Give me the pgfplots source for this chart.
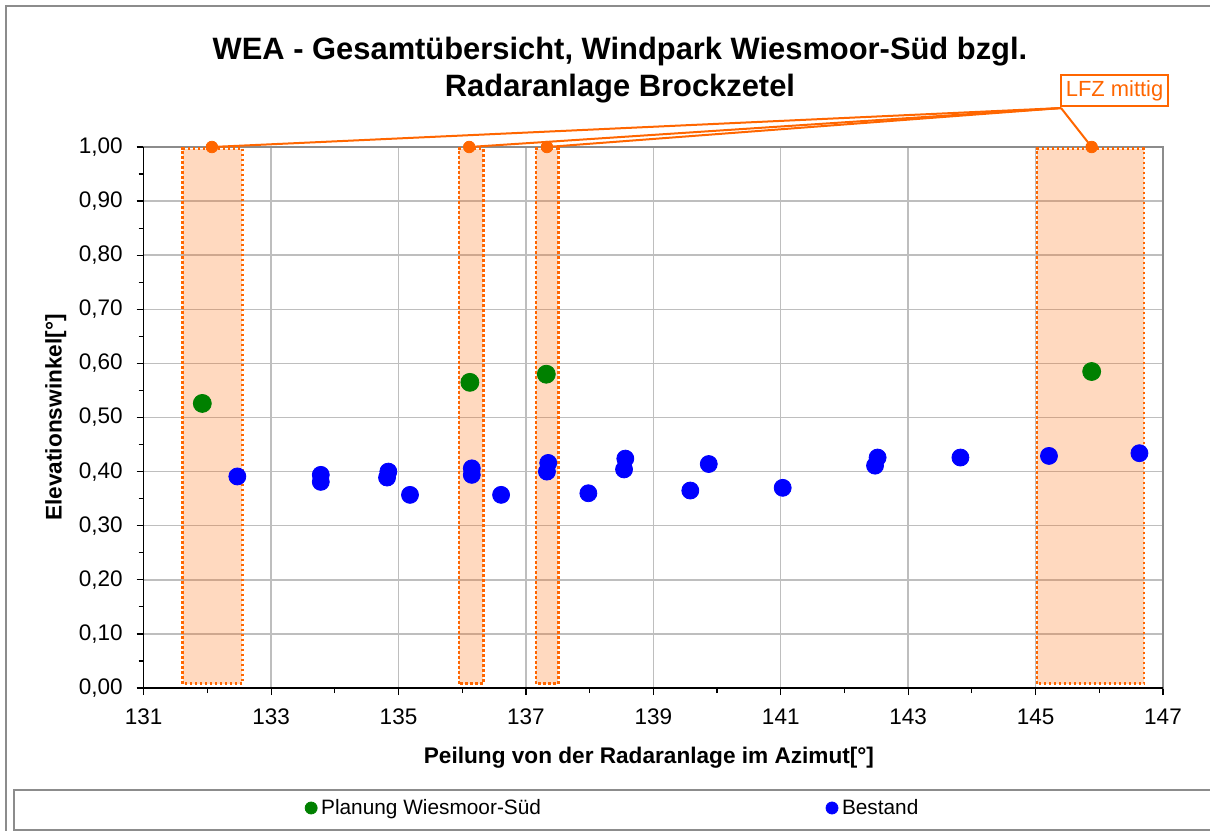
\documentclass[border=0pt]{standalone}
\usepackage{fontspec}
\setmainfont{Liberation Sans}
\usepackage{pgfplots}
\pgfplotsset{compat=1.18}

\definecolor{lfz}{HTML}{FF6600}
\definecolor{planung}{HTML}{008000}
\definecolor{bestand}{HTML}{0000FF}
\definecolor{gridgray}{HTML}{BEBEBE}
\definecolor{framegray}{HTML}{8C8C8C}

\begin{document}
\begin{tikzpicture}
\useasboundingbox (-71.85bp,-71.5bp) rectangle (533.15bp,344bp);
% outer chart frame and legend box
\draw[framegray, line width=0.8bp] (-68.85bp,341bp) rectangle (545bp,-85bp);
\draw[framegray, line width=0.8bp] (-64.85bp,-51bp) rectangle (545bp,-71bp);
% title
\node[align=center, font=\fontsize{15.5}{18.5}\selectfont\bfseries]
  at (238.15bp,308.75bp) {WEA - Gesamtübersicht, Windpark Wiesmoor-Süd bzgl.\\Radaranlage Brockzetel};

\begin{axis}[
  at={(0,0)}, anchor=south west,
  width=509.65bp, height=270.5bp, scale only axis,
  xmin=131, xmax=147, ymin=0, ymax=1,
  xtick={131,133,...,147}, minor xtick={132,134,...,146},
  ytick={0,0.1,0.2,0.3,0.4,0.5,0.6,0.7,0.8,0.9,1},
  minor ytick={0.05,0.15,0.25,0.35,0.45,0.55,0.65,0.75,0.85,0.95},
  tick align=outside, major tick length=3.5bp, minor tick length=2.5bp,
  tick style={black, line width=0.6bp},
  xtick pos=bottom, ytick pos=left,
  grid=major, major grid style={gridgray, line width=0.7bp},
  axis line style={framegray, line width=0.7bp},
  ticklabel style={font=\fontsize{11.3}{13}\selectfont},
  yticklabel style={xshift=-3.5bp, /pgf/number format/.cd, fixed, fixed zerofill, precision=2, use comma, assume math mode=true},
  xticklabel style={yshift=-3.5bp, /pgf/number format/.cd, fixed, precision=0, assume math mode=true},
  xlabel={Peilung von der Radaranlage im Azimut[°]},
  ylabel={Elevationswinkel[°]},
  label style={font=\fontsize{11.35}{13}\selectfont\bfseries},
  xlabel style={at={(axis description cs:0.4957,0)}, anchor=center, yshift=-35bp},
  ylabel style={at={(axis description cs:0,0.5)}, anchor=center, yshift=44bp},
  clip=false,
  legend style={at={(axis description cs:0.158,-0.2218)}, anchor=west,
    draw=none, fill=none, font=\fontsize{10.45}{12}\selectfont,
    legend columns=2, inner sep=0pt,
    /tikz/every even column/.append style={column sep=140.5bp}},
  legend image code/.code={\draw[#1, mark size=3bp] plot coordinates {(3bp,0bp)};},
]
% Planung
\addplot[only marks, mark=*, mark size=4.5bp, mark options={draw=planung, fill=planung}]
coordinates {(131.92,0.526) (136.12,0.565) (137.32,0.580) (145.88,0.585)};
% Bestand
\addplot[only marks, mark=*, mark size=4.25bp, mark options={draw=bestand, fill=bestand}]
coordinates {
 (132.47,0.391) (133.78,0.394) (133.78,0.381) (134.84,0.400) (134.82,0.389)
 (135.18,0.357) (136.15,0.406) (136.15,0.394) (136.61,0.357) (137.35,0.416)
 (137.33,0.400) (137.98,0.360) (138.56,0.424) (138.54,0.404) (139.58,0.365)
 (139.87,0.414) (141.03,0.370) (142.52,0.426) (142.48,0.411) (143.82,0.426)
 (145.21,0.429) (146.63,0.434)
};
% LFZ bands
\addplot[forget plot, draw=lfz, line width=1.35bp, dash pattern=on 1.2bp off 1.3bp, fill=lfz, fill opacity=0.25]
coordinates {(131.61,0.008) (131.61,0.997) (132.55,0.997) (132.55,0.008)} -- cycle;
\addplot[forget plot, draw=lfz, line width=1.35bp, dash pattern=on 1.2bp off 1.3bp, fill=lfz, fill opacity=0.25]
coordinates {(135.95,0.008) (135.95,0.997) (136.33,0.997) (136.33,0.008)} -- cycle;
\addplot[forget plot, draw=lfz, line width=1.35bp, dash pattern=on 1.2bp off 1.3bp, fill=lfz, fill opacity=0.25]
coordinates {(137.16,0.008) (137.16,0.997) (137.51,0.997) (137.51,0.008)} -- cycle;
\addplot[forget plot, draw=lfz, line width=1.35bp, dash pattern=on 1.2bp off 1.3bp, fill=lfz, fill opacity=0.25]
coordinates {(145.02,0.008) (145.02,0.997) (146.70,0.997) (146.70,0.008)} -- cycle;
% LFZ centres
\addplot[forget plot, only marks, mark=*, mark size=2.9bp, mark options={draw=lfz, fill=lfz}]
coordinates {(132.07,1) (136.11,1) (137.33,1) (145.88,1)};
% callout
\draw[lfz, line width=1bp] (axis cs:145.40,1.072) -- (axis cs:132.07,1);
\draw[lfz, line width=1bp] (axis cs:145.40,1.072) -- (axis cs:136.11,1);
\draw[lfz, line width=1bp] (axis cs:145.40,1.072) -- (axis cs:137.33,1);
\draw[lfz, line width=1bp] (axis cs:145.40,1.072) -- (axis cs:145.88,1);
\node[draw=lfz, fill=white, text=lfz, line width=0.8bp, inner sep=0pt,
  minimum width=53.5bp, minimum height=15.5bp, font=\fontsize{11}{13}\selectfont]
  at (axis cs:146.24,1.1044) {LFZ mittig};
% dark left and bottom axis lines
\draw[black, line width=0.7bp] (rel axis cs:0,1) -- (rel axis cs:0,0) -- (rel axis cs:1,0);
\legend{Planung Wiesmoor-Süd, Bestand}
\end{axis}
\end{tikzpicture}
\end{document}
